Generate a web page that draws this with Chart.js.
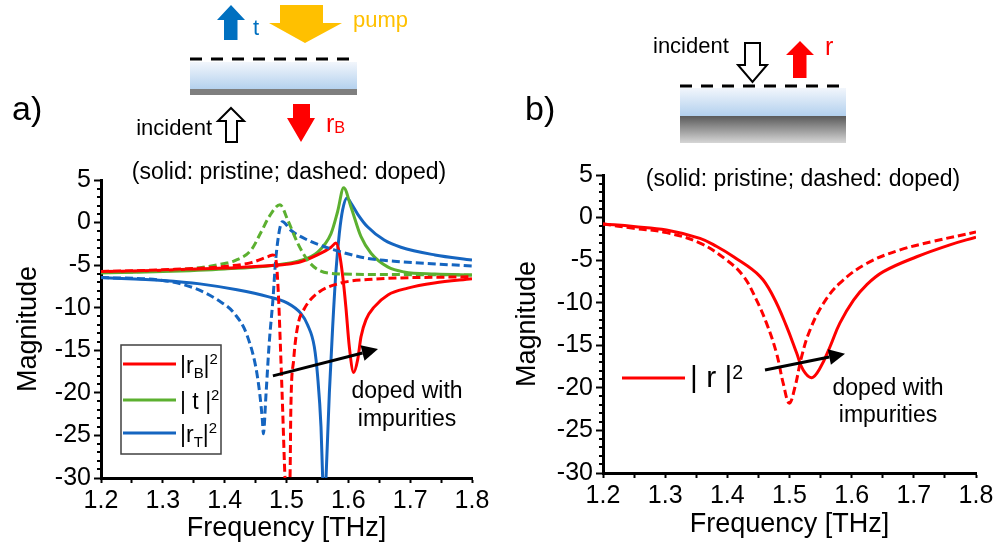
<!DOCTYPE html>
<html>
<head>
<meta charset="utf-8">
<script src="https://cdn.jsdelivr.net/npm/chart.js@4.4.0/dist/chart.umd.min.js"></script>
<style>
  html, body { margin: 0; padding: 0; background: #fff; }
  #wrap { position: relative; width: 999px; height: 554px; overflow: hidden; }
  #chartA { position: absolute; left: 0; top: 0; }
  #chartB { position: absolute; left: 499px; top: 0; }
</style>
</head>
<body>
<div id="wrap">
  <canvas id="chartA" width="499" height="554" style="width:499px;height:554px"></canvas>
  <canvas id="chartB" width="500" height="554" style="width:500px;height:554px"></canvas>
</div>
<script>
// ---- data, panel a) ----
const freqRbA = [1.20, 1.30, 1.40, 1.45, 1.50, 1.523, 1.55, 1.572, 1.580, 1.5855, 1.591, 1.596, 1.6016, 1.6086, 1.6151, 1.6205, 1.6286, 1.642, 1.664, 1.696, 1.739, 1.80];
const rbPristine = [-5.75, -5.6, -5.35, -5.15, -4.9, -4.6, -3.8, -2.9, -2.4, -3.6, -6.35, -9.9, -14.6, -17.6, -16.1, -13.4, -11.4, -9.9, -8.5, -7.7, -7.1, -6.6];

const freqTA = [1.20, 1.30, 1.40, 1.48, 1.52, 1.55, 1.572, 1.5827, 1.5925, 1.604, 1.6205, 1.6367, 1.6636, 1.690, 1.740, 1.80];
const tPristine = [-5.9, -5.75, -5.45, -5.0, -4.5, -3.5, -1.3, 1.3, 4.1, 1.9, -1.66, -3.6, -5.2, -5.8, -6.05, -6.15];

const freqRtA = [1.20, 1.30, 1.36, 1.42, 1.47, 1.50, 1.5235, 1.534, 1.545, 1.5504, 1.5558, 1.5585, 1.5612, 1.5639, 1.5693, 1.5747, 1.5801, 1.5854, 1.5908, 1.5978, 1.605, 1.615, 1.631, 1.658, 1.685, 1.74, 1.80];
const rtPristine = [-6.45, -6.8, -7.2, -7.9, -8.7, -9.4, -10.7, -12.0, -14.6, -18.1, -24, -30, -34, -30, -20, -12.2, -5.6, -1.3, 1.5, 2.9, 2.2, 1.0, -0.5, -2.05, -2.9, -3.8, -4.4];

const freqRbD = [1.20, 1.30, 1.40, 1.443, 1.470, 1.478, 1.483, 1.4868, 1.490, 1.4938, 1.4976, 1.5016, 1.5057, 1.507, 1.5116, 1.518, 1.529, 1.550, 1.588, 1.631, 1.80];
const rbDoped = [-5.75, -5.55, -5.15, -4.7, -4.0, -3.8, -4.4, -8.3, -14.2, -22, -30, -34, -30, -22, -16.1, -12.2, -10.1, -8.3, -7.1, -6.7, -6.35];

const freqTD = [1.20, 1.30, 1.36, 1.40, 1.4156, 1.443, 1.459, 1.472, 1.4895, 1.502, 1.518, 1.534, 1.55, 1.577, 1.65, 1.80];
const tDoped = [-5.9, -5.65, -5.3, -4.8, -4.5, -3.2, -1.1, 0.7, 2.1, 0.3, -2.4, -4.4, -5.5, -6.0, -6.1, -6.15];

const freqRtD = [1.20, 1.30, 1.351, 1.389, 1.416, 1.437, 1.453, 1.461, 1.4625, 1.467, 1.472, 1.478, 1.483, 1.4935, 1.507, 1.534, 1.577, 1.631, 1.685, 1.80];
const rtDoped = [-6.45, -6.8, -7.7, -9.1, -10.7, -13.4, -18.1, -23.2, -24.8, -20, -14.2, -9.1, -4.0, 0.1, -0.9, -2.05, -3.2, -4.2, -4.6, -5.1];

// ---- data, panel b) ----
const freqRP = [1.20, 1.249, 1.302, 1.356, 1.383, 1.41, 1.4525, 1.474, 1.4954, 1.5115, 1.522, 1.5357, 1.549, 1.565, 1.581, 1.603, 1.624, 1.651, 1.7046, 1.758, 1.80];
const rPristine = [-0.75, -1.05, -1.46, -2.44, -3.4, -4.6, -6.9, -9.3, -12.8, -15.9, -17.9, -18.8, -17.7, -15.2, -12.4, -9.7, -7.9, -6.35, -4.6, -3.2, -2.3];

const freqRD = [1.20, 1.249, 1.302, 1.356, 1.399, 1.426, 1.447, 1.463, 1.479, 1.490, 1.4997, 1.5088, 1.5196, 1.533, 1.5544, 1.581, 1.624, 1.678, 1.731, 1.80];
const rDoped = [-0.75, -1.26, -1.77, -3.0, -5.0, -6.9, -9.7, -12.4, -15.9, -19.5, -21.8, -19.9, -16.3, -13.2, -10.1, -7.7, -5.4, -3.8, -2.8, -1.7];

const xTicksMin = 1.2, xTicksMax = 1.8;
const yTicksMin = -30, yTicksMax = 5;

const FONT = "'Liberation Sans', Arial, sans-serif";
const RED = '#ff0000', GREEN = '#5cb030', BLUE = '#1565c0';

Chart.defaults.font.family = FONT;
Chart.defaults.color = '#000';

function pts(xs, ys) {
  return xs.map(function (x, i) { return { x: x, y: ys[i] }; });
}

function line(label, xs, ys, color, dashed, smooth) {
  return {
    label: label,
    data: pts(xs, ys),
    borderColor: color,
    backgroundColor: color,
    borderWidth: 3,
    borderDash: dashed ? [8, 4] : [],
    pointRadius: 0,
    cubicInterpolationMode: smooth ? 'default' : 'monotone',
    tension: 0.4,
    fill: false
  };
}

// text with sub/superscripts, y = baseline
function drawRich(ctx, x, y, parts, size, color, subDy, supDy) {
  ctx.save();
  ctx.fillStyle = color;
  ctx.textAlign = 'left';
  ctx.textBaseline = 'alphabetic';
  var cx = x;
  parts.forEach(function (p) {
    var s = size, dy = 0;
    if (p.sub) { s = size * 0.65; dy = subDy; }
    if (p.sup) { s = size * 0.65; dy = supDy; }
    ctx.font = s + 'px ' + FONT;
    ctx.fillText(p.t, cx, y + dy);
    cx += ctx.measureText(p.t).width;
  });
  ctx.restore();
}

function text(ctx, str, x, y, size, color, align) {
  ctx.save();
  ctx.font = size + 'px ' + FONT;
  ctx.fillStyle = color;
  ctx.textAlign = align || 'left';
  ctx.textBaseline = 'alphabetic';
  ctx.fillText(str, x, y);
  ctx.restore();
}

function poly(ctx, p, fill, stroke) {
  ctx.save();
  ctx.beginPath();
  ctx.moveTo(p[0][0], p[0][1]);
  for (var i = 1; i < p.length; i++) ctx.lineTo(p[i][0], p[i][1]);
  ctx.closePath();
  ctx.fillStyle = fill;
  ctx.fill();
  if (stroke) {
    ctx.lineWidth = 2;
    ctx.strokeStyle = stroke;
    ctx.lineJoin = 'miter';
    ctx.stroke();
  }
  ctx.restore();
}

function dashLine(ctx, x1, x2, y) {
  ctx.save();
  ctx.strokeStyle = '#000';
  ctx.lineWidth = 3;
  ctx.setLineDash([12, 9]);
  ctx.beginPath();
  ctx.moveTo(x1, y);
  ctx.lineTo(x2, y);
  ctx.stroke();
  ctx.restore();
}

function slab(ctx, x, y, w, h) {
  var g = ctx.createLinearGradient(0, y, 0, y + h);
  g.addColorStop(0, '#f2f6fc');
  g.addColorStop(1, '#b2d0ee');
  ctx.fillStyle = g;
  ctx.fillRect(x, y, w, h);
}

// arrow between two data points
function dataArrow(chart, x1, y1, x2, y2) {
  var ctx = chart.ctx, xs = chart.scales.x, ys = chart.scales.y;
  var ax = xs.getPixelForValue(x1), ay = ys.getPixelForValue(y1);
  var bx = xs.getPixelForValue(x2), by = ys.getPixelForValue(y2);
  var ang = Math.atan2(by - ay, bx - ax);
  var hl = 16, hw = 8;
  var ex = bx - hl * Math.cos(ang), ey = by - hl * Math.sin(ang);
  ctx.save();
  ctx.strokeStyle = '#000';
  ctx.lineWidth = 3;
  ctx.beginPath();
  ctx.moveTo(ax, ay);
  ctx.lineTo(ex, ey);
  ctx.stroke();
  ctx.beginPath();
  ctx.moveTo(bx, by);
  ctx.lineTo(ex + hw * Math.sin(ang), ey - hw * Math.cos(ang));
  ctx.lineTo(ex - hw * Math.sin(ang), ey + hw * Math.cos(ang));
  ctx.closePath();
  ctx.fillStyle = '#000';
  ctx.fill();
  ctx.restore();
}

// minor ticks on the y axis (every 1 unit)
const minorTicks = {
  id: 'minorTicks',
  afterDraw: function (chart) {
    var ctx = chart.ctx, ys = chart.scales.y, left = chart.chartArea.left;
    ctx.save();
    ctx.strokeStyle = '#000';
    ctx.lineWidth = 2;
    for (var v = yTicksMin; v <= yTicksMax; v++) {
      if (v % 5 === 0) continue;
      var py = Math.round(ys.getPixelForValue(v));
      ctx.beginPath();
      ctx.moveTo(left - 4, py);
      ctx.lineTo(left, py);
      ctx.stroke();
    }
    ctx.restore();
  }
};

function drawPanelA(chart) {
  var ctx = chart.ctx;
  // diagram
  text(ctx, 'a)', 12, 120, 34, '#000');
  poly(ctx, [[280, 5], [323, 5], [323, 23], [342, 23], [305, 43], [269, 23], [280, 23]], '#ffc000');
  text(ctx, 'pump', 353, 27, 22, '#ffc000');
  poly(ctx, [[231, 5], [245, 20], [237.5, 20], [237.5, 40], [224, 40], [224, 20], [217, 20]], '#0070c0');
  text(ctx, 't', 253, 35, 22, '#0070c0');
  slab(ctx, 190, 62, 167, 28);
  ctx.fillStyle = '#7f7f7f';
  ctx.fillRect(190, 89, 167, 6);
  dashLine(ctx, 190, 357, 59);
  poly(ctx, [[231, 108], [244, 121], [237, 121], [237, 142], [226, 142], [226, 121], [218, 121]], '#fff', '#000');
  text(ctx, 'incident', 212, 135, 22, '#000', 'right');
  poly(ctx, [[293, 104], [310, 104], [310, 118], [315, 118], [301, 142], [287, 118], [293, 118]], RED);
  drawRich(ctx, 326, 132, [{ t: 'r' }, { t: 'B', sub: true }], 25, RED, 1, 0);

  // annotations inside the chart
  text(ctx, '(solid: pristine; dashed: doped)', 289, 179, 23, '#000', 'center');
  dataArrow(chart, 1.478, -18.0, 1.648, -14.85);
  text(ctx, 'doped with', 407, 398, 23, '#000', 'center');
  text(ctx, 'impurities', 407, 426, 23, '#000', 'center');

  // legend
  ctx.save();
  ctx.strokeStyle = '#404040';
  ctx.lineWidth = 1.5;
  ctx.strokeRect(121, 345, 100, 109);
  var rows = [
    { y: 364, c: RED, parts: [{ t: '|r' }, { t: 'B', sub: true }, { t: '|' }, { t: '2', sup: true }] },
    { y: 400, c: GREEN, parts: [{ t: '| t |' }, { t: '2', sup: true }] },
    { y: 433, c: BLUE, parts: [{ t: '|r' }, { t: 'T', sub: true }, { t: '|' }, { t: '2', sup: true }] }
  ];
  rows.forEach(function (r) {
    ctx.strokeStyle = r.c;
    ctx.lineWidth = 3;
    ctx.beginPath();
    ctx.moveTo(123, r.y);
    ctx.lineTo(176, r.y);
    ctx.stroke();
    drawRich(ctx, 180, r.y + 9, r.parts, 23, '#000', 5, -9);
  });
  ctx.restore();
}

function drawPanelB(chart) {
  var ctx = chart.ctx;
  ctx.save();
  ctx.translate(-499, 0);
  text(ctx, 'b)', 525, 120, 34, '#000');
  text(ctx, 'incident', 653, 53, 22, '#000');
  poly(ctx, [[745, 43], [760, 43], [760, 65], [767, 65], [752.5, 82], [738, 65], [745, 65]], '#fff', '#000');
  poly(ctx, [[800, 41], [814, 55], [806.5, 55], [806.5, 78], [793, 78], [793, 55], [786, 55]], RED);
  text(ctx, 'r', 825, 55, 25, RED);
  slab(ctx, 680, 88, 166, 28);
  var g = ctx.createLinearGradient(0, 116, 0, 143);
  g.addColorStop(0, '#5a5a5a');
  g.addColorStop(1, '#d6d6d6');
  ctx.fillStyle = g;
  ctx.fillRect(680, 116, 166, 27);
  dashLine(ctx, 680, 848, 86);

  text(ctx, '(solid: pristine; dashed: doped)', 803, 186, 23, '#000', 'center');
  text(ctx, 'doped with', 888, 395, 23, '#000', 'center');
  text(ctx, 'impurities', 888, 422, 23, '#000', 'center');

  ctx.strokeStyle = RED;
  ctx.lineWidth = 3;
  ctx.beginPath();
  ctx.moveTo(622, 378);
  ctx.lineTo(685, 378);
  ctx.stroke();
  drawRich(ctx, 690, 387, [{ t: '| r |' }, { t: '2', sup: true }], 30, '#000', 0, -8);
  ctx.restore();

  dataArrow(chart, 1.4606, -17.9, 1.5893, -16.0);
}

function makeOptions(cfg) {
  return {
    responsive: false,
    animation: false,
    devicePixelRatio: 1,
    layout: { padding: { top: cfg.top, right: cfg.right, bottom: 0, left: 0 } },
    plugins: { legend: { display: false }, tooltip: { enabled: false } },
    scales: {
      x: {
        type: 'linear',
        min: xTicksMin,
        max: xTicksMax,
        afterFit: function (s) { s.height = cfg.xHeight; },
        border: { display: true, color: '#000', width: 3 },
        grid: { drawOnChartArea: false, drawTicks: true, tickLength: 5, tickWidth: 2, tickColor: '#000' },
        ticks: {
          stepSize: 0.05,
          autoSkip: false,
          maxRotation: 0,
          padding: 3,
          color: '#000',
          font: { size: 25 },
          callback: function (v) {
            var k = Math.round(v * 100);
            return k % 10 === 0 ? (k / 100).toFixed(1) : '';
          }
        },
        title: { display: true, text: 'Frequency [THz]', color: '#000', font: { size: 27 }, padding: { top: 0, bottom: cfg.xTitlePad } }
      },
      y: {
        type: 'linear',
        min: yTicksMin,
        max: yTicksMax,
        afterFit: function (s) { s.width = cfg.yWidth; },
        border: { display: true, color: '#000', width: 3 },
        grid: { drawOnChartArea: false, drawTicks: true, tickLength: 7, tickWidth: 2, tickColor: '#000' },
        ticks: { stepSize: 5, padding: 3, color: '#000', font: { size: 25 } },
        title: { display: true, text: 'Magnitude', color: '#000', font: { size: 27 }, padding: { top: cfg.yTitlePad, bottom: 0 } }
      }
    }
  };
}

new Chart(document.getElementById('chartA'), {
  type: 'line',
  data: {
    datasets: [
      line('|rB|² doped', freqRbD, rbDoped, RED, true, false),
      line('|t|² doped', freqTD, tDoped, GREEN, true, false),
      line('|rT|² doped', freqRtD, rtDoped, BLUE, true, false),
      line('|rB|²', freqRbA, rbPristine, RED, false, false),
      line('|t|²', freqTA, tPristine, GREEN, false, false),
      line('|rT|²', freqRtA, rtPristine, BLUE, false, false)
    ]
  },
  options: makeOptions({ top: 180, right: 27, xHeight: 76, yWidth: 101, xTitlePad: 9, yTitlePad: 12 }),
  plugins: [minorTicks, { id: 'panelA', afterDraw: drawPanelA }]
});

new Chart(document.getElementById('chartB'), {
  type: 'line',
  data: {
    datasets: [
      line('|r|² doped', freqRD, rDoped, RED, true, true),
      line('|r|²', freqRP, rPristine, RED, false, true)
    ]
  },
  options: makeOptions({ top: 175, right: 23, xHeight: 81, yWidth: 104, xTitlePad: 13, yTitlePad: 12 }),
  plugins: [minorTicks, { id: 'panelB', afterDraw: drawPanelB }]
});
</script>
</body>
</html>
